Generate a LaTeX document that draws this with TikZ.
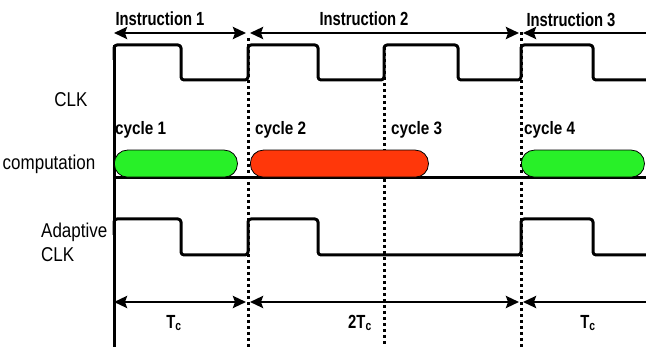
\documentclass[tikz,border=0pt]{standalone}
\usepackage{fontspec}
\setmainfont{Liberation Sans}
\newfontfamily\cond{Liberation Sans}[FakeStretch=0.78]
\newfontfamily\condc{Liberation Sans}[FakeStretch=0.85]
\usetikzlibrary{arrows.meta}
\definecolor{pgreen}{RGB}{40,240,40}
\definecolor{pred}{RGB}{255,55,10}
\begin{document}
\begin{tikzpicture}[x=1pt,y=-1pt,
  wave/.style={line width=3pt, rounded corners=3pt, line join=round},
  tip/.tip={Stealth[length=13pt,width=12pt,inset=2pt]},
  dimarrow/.style={line width=2.6pt, tip-tip},
  halfarrow/.style={line width=2.6pt, tip-},
  dotline/.style={line width=3pt, dash pattern=on 3pt off 3pt},
  pill/.style={draw=black, line width=0.8pt, rounded corners=13pt, minimum height=27pt, inner sep=0pt, anchor=south west},
  title/.style={font=\cond\bfseries\fontsize{19}{20}\selectfont, inner sep=0pt},
  cyc/.style={font=\condc\bfseries\fontsize{18}{19}\selectfont, inner sep=0pt, anchor=west},
  sig/.style={font=\condc\fontsize{20}{21}\selectfont, inner sep=0pt},
  per/.style={font=\cond\bfseries\fontsize{19}{20}\selectfont, inner sep=0pt}
]
\useasboundingbox (0,0) rectangle (646,347);

% coordinates
\coordinate (a0) at (114,33);
\coordinate (a1l) at (246,33);
\coordinate (a1r) at (250,33);
\coordinate (a2l) at (519,33);
\coordinate (a2r) at (523,33);
\coordinate (a3) at (646,33);
\coordinate (b0) at (114,302);
\coordinate (b1l) at (246,302);
\coordinate (b1r) at (250,302);
\coordinate (b2l) at (519,302);
\coordinate (b2r) at (523,302);
\coordinate (b3) at (646,302);
\coordinate (d1t) at (248,38);
\coordinate (d1b) at (248,347);
\coordinate (d2t) at (384,47);
\coordinate (d2b) at (384,347);
\coordinate (d3t) at (521,32);
\coordinate (d3b) at (521,347);
\coordinate (axt) at (114,45);
\coordinate (axb) at (114,347);
\coordinate (bl0) at (114,178);
\coordinate (bl1) at (646,178);

% dotted separators
\draw[dotline] (d1t) -- (d1b);
\draw[dotline] (d2t) -- (d2b);
\draw[dotline] (d3t) -- (d3b);

% left axis and baseline
\draw[line width=3pt] (axt) -- (axb);
\draw[line width=3pt] (bl0) -- (bl1);

% CLK
\draw[wave] (114,60) -- (114,45) -- (181,45) -- (181,80) -- (248,80) -- (248,45) -- (318,45) -- (318,80)
  -- (384,80) -- (384,45) -- (458,45) -- (458,80) -- (521,80) -- (521,45) -- (593,45) -- (593,80) -- (647,80);

% Adaptive CLK
\draw[wave] (114,235) -- (114,219) -- (181,219) -- (181,255) -- (248,255) -- (248,219) -- (318,219) -- (318,255)
  -- (521,255) -- (521,219) -- (593,219) -- (593,255) -- (647,255);

% computation pills
\node[pill, fill=pgreen, minimum width=123pt] (p1) at (114,177.5) {};
\node[pill, fill=pred, minimum width=178pt] (p2) at (250,177.5) {};
\node[pill, fill=pgreen, minimum width=123pt] (p3) at (521,177.5) {};

% instruction arrows
\draw[dimarrow] (a0) -- (a1l);
\draw[dimarrow] (a1r) -- (a2l);
\draw[halfarrow] (a2r) -- (a3);
\node[title] (i1) at (160,19) {Instruction 1};
\node[title] (i2) at (364,19) {Instruction 2};
\node[title] (i3) at (571,20) {Instruction 3};

% period arrows
\draw[dimarrow] (b0) -- (b1l);
\draw[dimarrow] (b1r) -- (b2l);
\draw[halfarrow] (b2r) -- (b3);
\node[per] (t1) at (174,323) {T\textsubscript{c}};
\node[per] (t2) at (360,323) {2T\textsubscript{c}};
\node[per] (t3) at (588,323) {T\textsubscript{c}};

% signal labels
\node[sig] (clk) at (71,100) {CLK};
\node[sig] (comp) at (49,164) {computation};
\node[sig, align=left, anchor=west, font=\condc\fontsize{20}{24}\selectfont] (aclk) at (41,242) {Adaptive\\CLK};

% cycle labels
\node[cyc] (c1) at (115,130) {cycle 1};
\node[cyc] (c2) at (255,130) {cycle 2};
\node[cyc] (c3) at (391,130) {cycle 3};
\node[cyc] (c4) at (524,130) {cycle 4};
\end{tikzpicture}
\end{document}
